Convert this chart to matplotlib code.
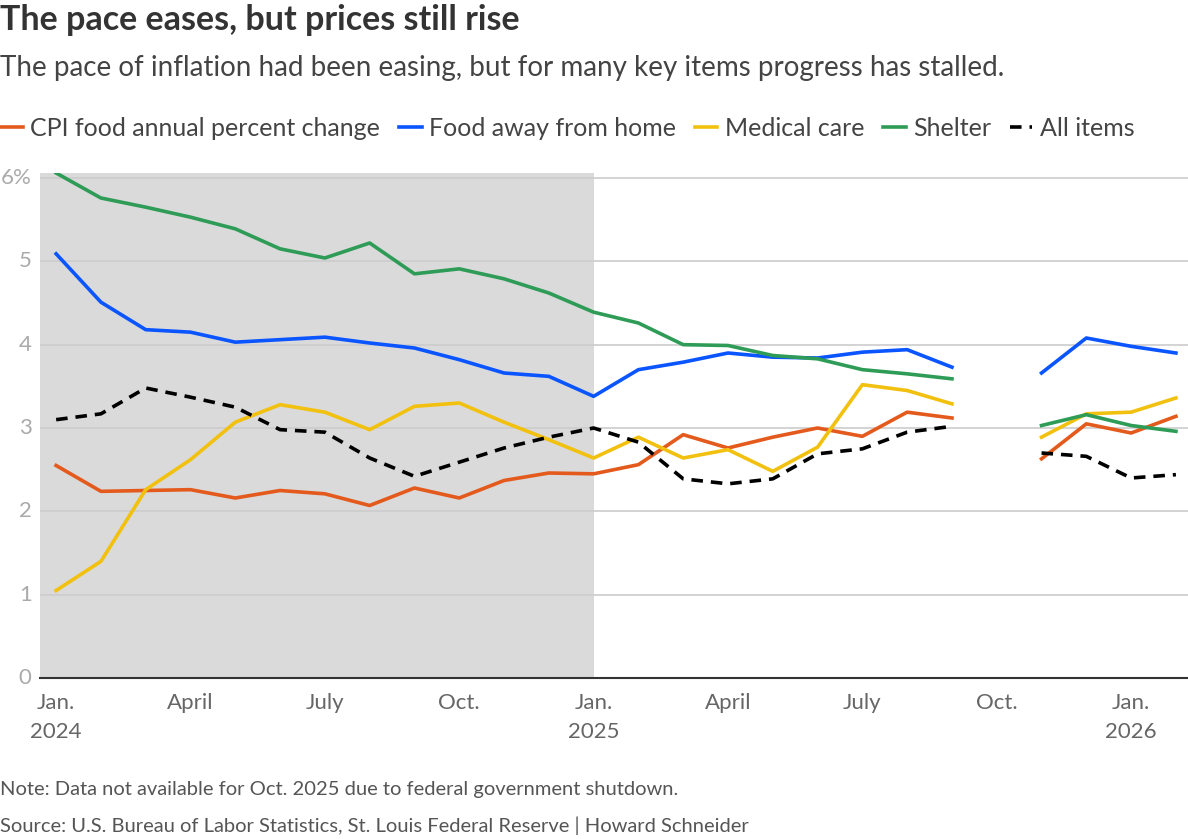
import matplotlib.pyplot as plt
import numpy as np

# monthly points Jan 2024 .. Feb 2026; Oct 2025 missing (shutdown)
months = ["2024-01", "2024-02", "2024-03", "2024-04", "2024-05", "2024-06",
          "2024-07", "2024-08", "2024-09", "2024-10", "2024-11", "2024-12",
          "2025-01", "2025-02", "2025-03", "2025-04", "2025-05", "2025-06",
          "2025-07", "2025-08", "2025-09", "2025-10", "2025-11", "2025-12",
          "2026-01", "2026-02"]
nan = np.nan
cpi_food = [2.55, 2.24, 2.25, 2.26, 2.16, 2.25, 2.21, 2.07, 2.28, 2.16, 2.37, 2.46,
            2.45, 2.56, 2.92, 2.76, 2.89, 3.00, 2.90, 3.19, 3.12, nan, 2.63, 3.05,
            2.94, 3.14]
food_away = [5.09, 4.51, 4.18, 4.15, 4.03, 4.06, 4.09, 4.02, 3.96, 3.82, 3.66, 3.62,
             3.38, 3.70, 3.79, 3.90, 3.85, 3.84, 3.91, 3.94, 3.73, nan, 3.66, 4.08,
             3.98, 3.90]
medical = [1.05, 1.40, 2.26, 2.62, 3.07, 3.28, 3.19, 2.98, 3.26, 3.30, 3.07, 2.86,
           2.64, 2.89, 2.64, 2.74, 2.48, 2.77, 3.52, 3.45, 3.29, nan, 2.89, 3.17,
           3.19, 3.36]
shelter = [6.06, 5.76, 5.65, 5.53, 5.39, 5.15, 5.04, 5.22, 4.85, 4.91, 4.79, 4.62,
           4.39, 4.26, 4.00, 3.99, 3.87, 3.83, 3.70, 3.65, 3.59, nan, 3.03, 3.16,
           3.03, 2.96]
all_items = [3.10, 3.17, 3.48, 3.37, 3.25, 2.98, 2.95, 2.64, 2.42, 2.59, 2.76, 2.89,
             3.00, 2.83, 2.39, 2.33, 2.39, 2.69, 2.75, 2.95, 3.02, nan, 2.70, 2.66,
             2.40, 2.44]

tick_idx = [0, 3, 6, 9, 12, 15, 18, 21, 24]
tick_labels = ["Jan.\n2024", "April", "July", "Oct.", "Jan.\n2025", "April", "July",
               "Oct.", "Jan.\n2026"]
y_ticks = [0, 1, 2, 3, 4, 5, 6]
y_labels = ["0", "1", "2", "3", "4", "5", "6%"]

plt.rcParams['font.family'] = ['Lato', 'DejaVu Sans']

fig = plt.figure(figsize=(11.88, 8.39), dpi=100)
ax = fig.add_axes([40 / 1188, 1 - 678 / 839, 1 - 40 / 1188, (678 - 173) / 839])

x = np.arange(len(months))
ax.axvspan(-0.36, 12, color='#dadada', lw=0, zorder=0)

series = [
    ("CPI food annual percent change", cpi_food, '#e35a1c', '-'),
    ("Food away from home", food_away, '#0a55ff', '-'),
    ("Medical care", medical, '#f2c10f', '-'),
    ("Shelter", shelter, '#2e9c57', '-'),
    ("All items", all_items, 'black', (0, (3.2, 2.2))),
]
for label, vals, col, ls in series:
    ax.plot(x, vals, color=col, lw=2.6, ls=ls, label=label, zorder=3)

ax.set_xlim(-0.36, 25.27)
ax.set_ylim(0, 6.06)
ax.set_yticks(y_ticks)
ax.set_yticklabels(y_labels)
ax.set_xticks(tick_idx)
ax.set_xticklabels(tick_labels, linespacing=1.55)
ax.grid(axis='y', color='#cccccc', lw=1.2, zorder=1)
ax.set_axisbelow(True)
for s in ['top', 'right', 'left']:
    ax.spines[s].set_visible(False)
ax.spines['bottom'].set_color('#333333')
ax.spines['bottom'].set_linewidth(1.5)
ax.tick_params(axis='y', length=0, pad=6, labelsize=16, labelcolor='#aaaaaa')
ax.tick_params(axis='x', length=0, pad=11, labelsize=16, labelcolor='#666666')
for lbl in ax.get_yticklabels():
    lbl.set_verticalalignment('center')

fig.text(0.0, 1 - 20 / 839, "The pace eases, but prices still rise", fontsize=24.5,
         fontweight='bold', color='#333333', va='center', ha='left')
fig.text(0.0, 1 - 68 / 839,
         "The pace of inflation had been easing, but for many key items progress has stalled.",
         fontsize=20, color='#444444', va='center', ha='left')

leg = fig.legend(loc='center left', bbox_to_anchor=(-0.008, 1 - 128 / 839), ncol=5,
                 frameon=False, fontsize=18, handlelength=0.9, handletextpad=0.3,
                 columnspacing=0.75, labelcolor='#444444', borderaxespad=0)

fig.text(0.0, 1 - 790 / 839,
         "Note: Data not available for Oct. 2025 due to federal government shutdown.",
         fontsize=14.5, color='#555555', va='center', ha='left')
fig.text(0.0, 1 - 826 / 839,
         "Source: U.S. Bureau of Labor Statistics, St. Louis Federal Reserve | Howard Schneider",
         fontsize=14.5, color='#555555', va='center', ha='left')

fig.savefig("out.png", dpi=100)
